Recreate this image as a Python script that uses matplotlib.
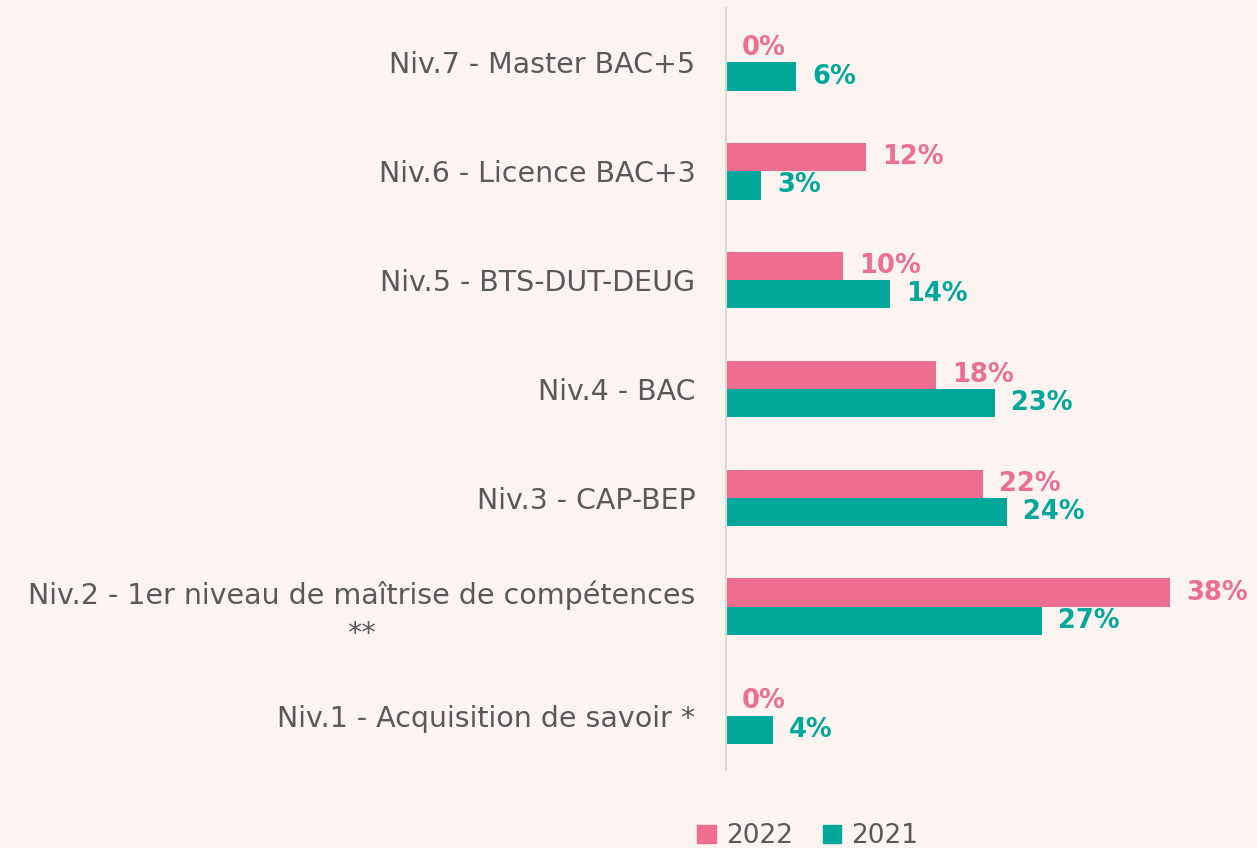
import matplotlib.pyplot as plt
from matplotlib.patches import Patch

categories = [
    "Niv.7 - Master BAC+5",
    "Niv.6 - Licence BAC+3",
    "Niv.5 - BTS-DUT-DEUG",
    "Niv.4 - BAC",
    "Niv.3 - CAP-BEP",
    "Niv.2 - 1er niveau de maîtrise de compétences\n**",
    "Niv.1 - Acquisition de savoir *",
]
values_2022 = [0, 12, 10, 18, 22, 38, 0]
values_2021 = [6, 3, 14, 23, 24, 27, 4]

bg = "#fdf4f2"
pink = "#ee6e8f"
teal = "#00a89c"
grey = "#595959"

plt.rcParams['font.family'] = ['DejaVu Sans']

fig = plt.figure(figsize=(12.57, 8.48), dpi=100, facecolor=bg)
ax = fig.add_axes([726 / 1257, 78 / 848, 526 / 1257, 762 / 848])
ax.set_facecolor(bg)

n = len(categories)
ypos = [n - 1 - i for i in range(n)]
h = 0.26
bars22 = ax.barh([y + h / 2 for y in ypos], values_2022, height=h, color=pink)
bars21 = ax.barh([y - h / 2 for y in ypos], values_2021, height=h, color=teal)

# value labels to the right of each bar
for bars, vals, col in [(bars22, values_2022, pink), (bars21, values_2021, teal)]:
    for b, v in zip(bars, vals):
        ax.annotate(f"{v}%", (v, b.get_y() + b.get_height() / 2),
                    xytext=(16, 0), textcoords="offset pixels",
                    ha="left", va="center", color=col, fontsize=18.5, fontweight="bold")

ax.set_xlim(0, 45)
ax.set_ylim(-0.5, n - 0.5)
ax.set_yticks(ypos)
ax.set_yticklabels(categories, fontsize=20.5, color=grey, multialignment="center",
                   linespacing=1.45)
ax.tick_params(axis="y", length=0, pad=22)
ax.set_xticks([])
for s in ["top", "right", "bottom"]:
    ax.spines[s].set_visible(False)
ax.spines["left"].set_color("#d9d9d9")
ax.spines["left"].set_linewidth(1.5)

handles = [Patch(color=pink, label="2022"), Patch(color=teal, label="2021")]
fig.legend(handles=handles, loc="center", bbox_to_anchor=(808 / 1257, 12 / 848),
           ncol=2, frameon=False, fontsize=19, labelcolor=grey,
           handlelength=0.7, handleheight=0.7, handletextpad=0.4, columnspacing=1.1)

fig.savefig("out.png", dpi=100, facecolor=bg)
